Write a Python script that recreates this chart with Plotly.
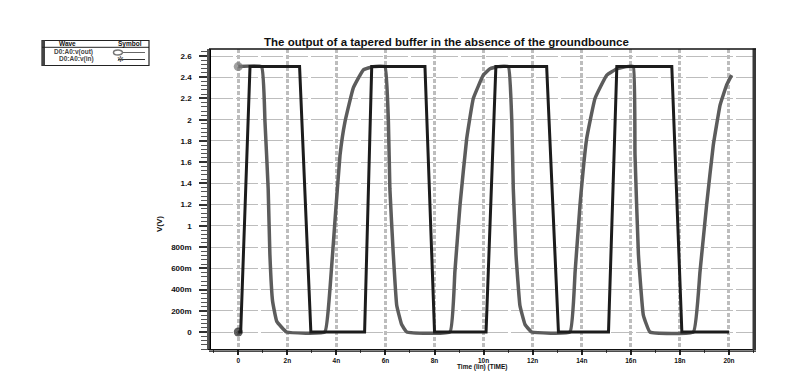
import plotly.graph_objects as go

# ---------------- data (time in ns, voltage in V) ----------------
in_t = [0.0, 0.1, 0.48, 2.5, 2.96, 5.15, 5.44, 7.61, 8.0, 10.1, 10.5, 12.57,
        13.05, 15.09, 15.43, 17.67, 18.08, 20.0]
in_v = [0.0, 0.0, 2.5, 2.5, 0.0, 0.0, 2.5, 2.5, 0.0, 0.0, 2.5, 2.5,
        0.0, 0.0, 2.5, 2.5, 0.0, 0.0]

out_t = [0.0, 0.95, 1.09, 1.22, 1.29, 1.40, 1.57, 1.97,
         3.53, 3.74, 3.94, 4.15, 4.35, 4.69, 5.10, 5.50,
         5.98, 6.12, 6.18, 6.32, 6.46, 6.66, 6.87,
         8.63, 8.83, 9.04, 9.31, 9.58, 9.99, 10.26, 10.6,
         11.01, 11.15, 11.21, 11.32, 11.48, 11.69, 11.96,
         13.52, 13.73, 13.93, 14.20, 14.54, 15.02, 15.43, 15.83,
         16.10, 16.17, 16.31, 16.51, 16.78,
         18.55, 18.82, 19.09, 19.36, 19.64, 19.91, 20.11]
out_v = [2.5, 2.5, 1.98, 1.35, 0.73, 0.29, 0.10, 0.0,
         0.0, 0.41, 1.04, 1.67, 1.98, 2.30, 2.47, 2.5,
         2.5, 1.98, 1.35, 0.73, 0.25, 0.07, 0.0,
         0.0, 0.57, 1.20, 1.82, 2.20, 2.42, 2.48, 2.5,
         2.5, 1.98, 1.35, 0.73, 0.25, 0.07, 0.0,
         0.0, 0.57, 1.20, 1.82, 2.20, 2.42, 2.48, 2.5,
         2.5, 1.67, 0.73, 0.16, 0.0,
         0.0, 0.57, 1.20, 1.76, 2.14, 2.33, 2.42]

x_tickvals = [0, 2, 4, 6, 8, 10, 12, 14, 16, 18, 20]
x_ticktext = ["0", "2n", "4n", "6n", "8n", "10n", "12n", "14n", "16n", "18n", "20n"]
y_tickvals = [0, 0.2, 0.4, 0.6, 0.8, 1.0, 1.2, 1.4, 1.6, 1.8, 2.0, 2.2, 2.4, 2.6]
y_ticktext = ["0", "200m", "400m", "600m", "800m", "1", "1.2", "1.4", "1.6",
              "1.8", "2", "2.2", "2.4", "2.6"]

series_names = ["D0:A0:v(out)", "D0:A0:v(in)"]
title_text = "The output of a tapered buffer in the absence of the groundbounce"

# ---------------- layout geometry ----------------
W, H = 809, 377
L, R, T, B = 211, 754, 49, 349
PW, PH = R - L, B - T


def px(x):
    return (x - L) / PW


def py(y):
    return (B - y) / PH


DARK = "#1c1c1c"
GRAY = "#5c5c5c"
FONT = "Liberation Sans, Arial, sans-serif"

fig = go.Figure()

fig.add_trace(go.Scatter(
    x=out_t, y=out_v, mode="lines+markers", name=series_names[0],
    line=dict(color=GRAY, width=3.5, shape="spline", smoothing=0.3),
    marker=dict(size=[9] + [0] * (len(out_t) - 1), color="#777777",
                line=dict(width=0)),
    showlegend=False))
fig.add_trace(go.Scatter(
    x=in_t, y=in_v, mode="lines+markers", name=series_names[1],
    line=dict(color=DARK, width=3),
    marker=dict(size=[9] + [0] * (len(in_t) - 1), color=DARK,
                line=dict(width=0)),
    showlegend=False))

shapes = []
# left grey bar next to y axis
shapes.append(dict(type="rect", xref="paper", yref="paper",
                   x0=px(207), x1=px(209.7), y0=py(349), y1=py(49),
                   fillcolor="#555555", line=dict(width=0), layer="above"))
# right border bar
shapes.append(dict(type="rect", xref="paper", yref="paper",
                   x0=px(752.5), x1=px(756), y0=py(350), y1=py(48.5),
                   fillcolor="#3a3a3a", line=dict(width=0), layer="above"))
# top border
shapes.append(dict(type="line", xref="paper", yref="paper",
                   x0=px(209), x1=px(756), y0=py(49), y1=py(49),
                   line=dict(color="#111111", width=1.5), layer="above"))
# second bottom line (double line)
shapes.append(dict(type="line", xref="paper", yref="paper",
                   x0=px(209), x1=px(756), y0=py(351.2), y1=py(351.2),
                   line=dict(color="#111111", width=1.2), layer="above"))

# ---------------- legend box (manual) ----------------
lx0, lx1, ly0, ly1 = 42, 149, 40.5, 65.5
shapes.append(dict(type="rect", xref="paper", yref="paper",
                   x0=px(lx0), x1=px(lx1), y0=py(ly1), y1=py(ly0),
                   fillcolor="white", line=dict(color="#222222", width=1.2)))
shapes.append(dict(type="rect", xref="paper", yref="paper",
                   x0=px(lx0), x1=px(lx0 + 3), y0=py(ly1), y1=py(ly0),
                   fillcolor="#444444", line=dict(width=0)))
shapes.append(dict(type="line", xref="paper", yref="paper",
                   x0=px(lx0), x1=px(lx1), y0=py(47.3), y1=py(47.3),
                   line=dict(color="#222222", width=1)))
# legend symbol lines
shapes.append(dict(type="line", xref="paper", yref="paper",
                   x0=px(118), x1=px(145), y0=py(52.5), y1=py(52.5),
                   line=dict(color="#666666", width=1)))
shapes.append(dict(type="line", xref="paper", yref="paper",
                   x0=px(118), x1=px(145), y0=py(59.5), y1=py(59.5),
                   line=dict(color="#333333", width=1)))
shapes.append(dict(type="circle", xref="paper", yref="paper",
                   x0=px(113.5), x1=px(122.5), y0=py(55), y1=py(50),
                   fillcolor="white", line=dict(color="#777777", width=1.5)))

annotations = []
annotations.append(dict(text=title_text, xref="paper", yref="paper",
                        x=px(446), y=py(42.5), showarrow=False,
                        xanchor="center", yanchor="middle",
                        font=dict(family=FONT, size=11.5, color="#111111", weight="bold")))
annotations.append(dict(text="Time (lin) (TIME)", xref="paper", yref="paper",
                        x=px(482), y=py(366.5), showarrow=False,
                        xanchor="center", yanchor="middle",
                        font=dict(family=FONT, size=6.5, color="#111111", weight="bold")))
annotations.append(dict(text="V(V)", xref="paper", yref="paper",
                        x=px(160), y=py(224), showarrow=False, textangle=-90,
                        xanchor="center", yanchor="middle",
                        font=dict(family=FONT, size=8, color="#111111", weight="bold")))
annotations.append(dict(text="Wave", xref="paper", yref="paper",
                        x=px(67), y=py(43.8), showarrow=False,
                        xanchor="center", yanchor="middle",
                        font=dict(family=FONT, size=6.5, color="#111111", weight="bold")))
annotations.append(dict(text="Symbol", xref="paper", yref="paper",
                        x=px(130), y=py(43.8), showarrow=False,
                        xanchor="center", yanchor="middle",
                        font=dict(family=FONT, size=6.5, color="#111111", weight="bold")))
annotations.append(dict(text=series_names[0], xref="paper", yref="paper",
                        x=px(73), y=py(52), showarrow=False,
                        xanchor="center", yanchor="middle",
                        font=dict(family=FONT, size=6.5, color="#444444", weight="bold")))
annotations.append(dict(text=series_names[1], xref="paper", yref="paper",
                        x=px(76), y=py(59.3), showarrow=False,
                        xanchor="center", yanchor="middle",
                        font=dict(family=FONT, size=6.5, color="#444444", weight="bold")))
annotations.append(dict(text="✲", xref="paper", yref="paper",
                        x=px(120), y=py(59.5), showarrow=False,
                        xanchor="center", yanchor="middle",
                        font=dict(family="DejaVu Sans", size=8, color="#555555")))

x0_ns = -1.11
x1_ns = 21.02
y0_v = -0.16
y1_v = 2.666

fig.update_layout(
    width=W, height=H,
    margin=dict(l=L, r=W - R, t=T, b=H - B, pad=0),
    paper_bgcolor="white", plot_bgcolor="white",
    showlegend=False,
    shapes=shapes, annotations=annotations,
    xaxis=dict(range=[x0_ns, x1_ns], tickvals=x_tickvals, ticktext=x_ticktext,
               showgrid=True, gridcolor="#bdbdbd", gridwidth=2.5, griddash="4px,2px",
               zeroline=False, showline=True, linecolor="#111111", linewidth=1.2,
               ticks="outside", ticklen=5, tickwidth=1.5, tickcolor="#222222",
               minor=dict(dtick=1, tick0=0, ticks="outside", ticklen=3,
                          tickwidth=1.2, tickcolor="#444444", showgrid=False),
               tickfont=dict(family=FONT, size=6.5, color="#111111", weight="bold"),
               ticklabelstandoff=0,
               fixedrange=True),
    yaxis=dict(range=[y0_v, y1_v], tickvals=y_tickvals, ticktext=y_ticktext,
               showgrid=True, gridcolor="#bdbdbd", gridwidth=1.3, griddash="22px,3px",
               zeroline=False, showline=True, linecolor="#000000", linewidth=2.5,
               ticks="outside", ticklen=9, tickwidth=1.5, tickcolor="#333333",
               minor=dict(dtick=0.04, tick0=0, ticks="outside", ticklen=7,
                          tickwidth=1, tickcolor="#555555", showgrid=False),
               tickfont=dict(family=FONT, size=8, color="#111111", weight="bold"),
               ticklabelstandoff=6,
               fixedrange=True),
)

fig.write_html("out.html")
